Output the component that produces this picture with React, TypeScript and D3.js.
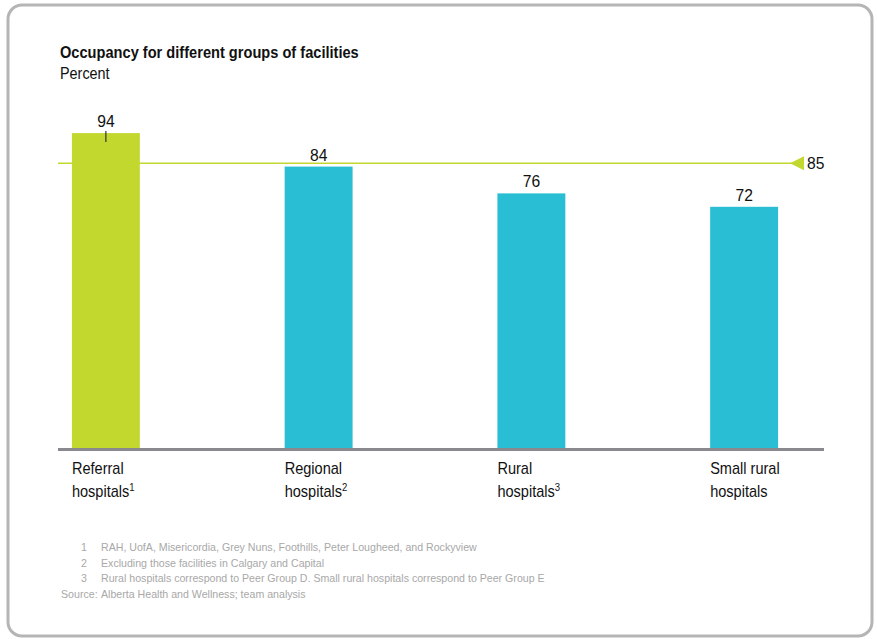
import React from "react";
import * as d3 from "d3";

const categories = ["Referral hospitals", "Regional hospitals", "Rural hospitals", "Small rural hospitals"];
const labelLine1 = ["Referral", "Regional", "Rural", "Small rural"];
const labelLine2 = ["hospitals", "hospitals", "hospitals", "hospitals"];
const labelSup = ["1", "2", "3", ""];
const values = [94, 84, 76, 72];
const highlight = [true, false, false, false];
const referenceValue = 85;
const footnoteNums = ["1", "2", "3"];
const footnotes = [
  "RAH, UofA, Misericordia, Grey Nuns, Foothills, Peter Lougheed, and Rockyview",
  "Excluding those facilities in Calgary and Capital",
  "Rural hospitals correspond to Peer Group D. Small rural hospitals correspond to Peer Group E",
];
const source = "Alberta Health and Wellness; team analysis";

const W = 877;
const H = 639;
const FONT = "'Liberation Sans', Arial, sans-serif";

function CText(props: { x: number; y: number; sx?: number; anchor?: string; size: number; weight?: string; fill: string; children: React.ReactNode }) {
  const { x, y, sx = 0.9, anchor = "start", size, weight = "normal", fill, children } = props;
  return (
    <text transform={`translate(${x},${y}) scale(${sx},1)`} textAnchor={anchor} fontSize={size} fontWeight={weight} fill={fill}>
      {children}
    </text>
  );
}

export default function App() {
  const baseY = 448;
  const xs = d3.scaleBand<string>().domain(categories).range([72 - 72.5, 778 + 72.5]).paddingInner(145 / 213).paddingOuter(72.5 / 213);
  const y = d3.scaleLinear().domain([0, 100]).range([baseY, baseY - 335]);
  const bw = xs.bandwidth();
  const green = "#c3d82f";
  const teal = "#29bed3";
  const ry = y(referenceValue);

  return (
    <svg width={W} height={H} style={{ position: "absolute", left: 0, top: 0, background: "#fff" }} fontFamily={FONT}>
      <rect x={8} y={5} width={864} height={631} rx={14} ry={14} fill="#fff" stroke="#b5b5b5" strokeWidth={3} />
      <CText x={60} y={58} sx={0.86} size={17} weight="bold" fill="#111">Occupancy for different groups of facilities</CText>
      <CText x={60} y={79} sx={0.9} size={16} fill="#111">Percent</CText>

      {categories.map((c, i) => (
        <rect key={c} x={xs(c)!} y={y(values[i])} width={bw} height={baseY - y(values[i])} fill={highlight[i] ? green : teal} />
      ))}
      <line x1={58} x2={792} y1={ry} y2={ry} stroke={green} strokeWidth={1.5} />
      <path d={`M790,${ry} L804,${ry - 7} L804,${ry + 7} Z`} fill={green} />
      <CText x={807} y={ry + 6} sx={0.95} size={16.5} fill="#111">{referenceValue}</CText>

      <line x1={xs(categories[0])! + bw / 2} x2={xs(categories[0])! + bw / 2} y1={131} y2={142} stroke="#333" strokeWidth={1.2} />

      {categories.map((c, i) => (
        <CText key={c + "v"} x={xs(c)! + bw / 2} y={y(values[i]) - 6} sx={0.95} anchor="middle" size={16.5} fill="#111">{values[i]}</CText>
      ))}

      <line x1={58} x2={824} y1={baseY + 1.5} y2={baseY + 1.5} stroke="#8a8a8e" strokeWidth={3} />

      {categories.map((c, i) => (
        <g key={c + "l"}>
          <CText x={xs(c)!} y={474} sx={0.91} size={16} fill="#111">{labelLine1[i]}</CText>
          <CText x={xs(c)!} y={497} sx={0.91} size={16} fill="#111">
            {labelLine2[i]}
            {labelSup[i] && <tspan fontSize={10.5} dy={-6}>{labelSup[i]}</tspan>}
          </CText>
        </g>
      ))}

      {footnotes.map((f, i) => (
        <g key={i}>
          <CText x={87} y={551 + i * 15.6} sx={0.9} anchor="end" size={11.8} fill="#a8a8a8">{footnoteNums[i]}</CText>
          <CText x={101} y={551 + i * 15.6} sx={0.9} size={11.8} fill="#a8a8a8">{f}</CText>
        </g>
      ))}
      <CText x={61} y={598} sx={0.9} size={11.8} fill="#a8a8a8">Source:</CText>
      <CText x={101} y={598} sx={0.9} size={11.8} fill="#a8a8a8">{source}</CText>
    </svg>
  );
}
